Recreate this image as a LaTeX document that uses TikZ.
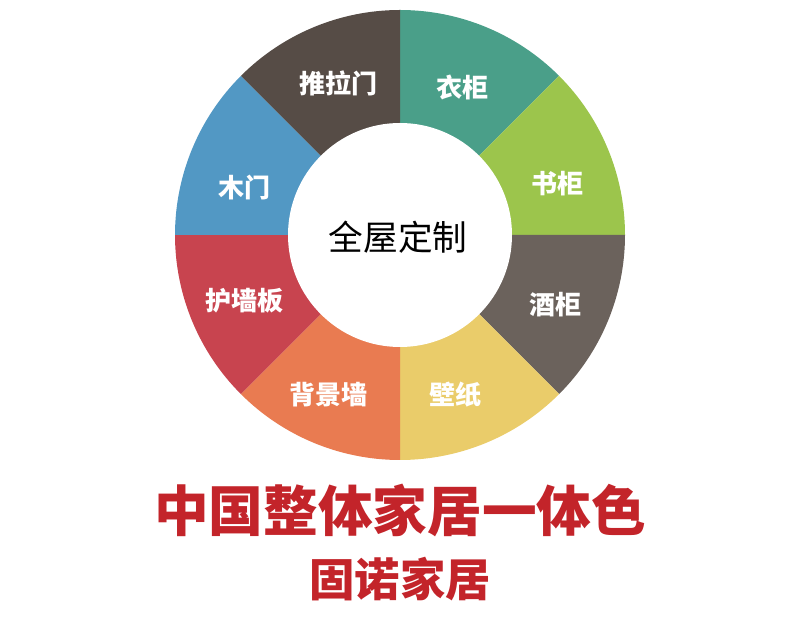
\documentclass[tikz,border=0pt]{standalone}
\usepackage{fontspec}
\newfontfamily\cjk{Noto Sans CJK SC}
\usetikzlibrary{positioning,calc}

\definecolor{cTuila}{HTML}{564C46}
\definecolor{cYigui}{HTML}{4A9F89}
\definecolor{cShugui}{HTML}{9CC54C}
\definecolor{cJiugui}{HTML}{6B625C}
\definecolor{cBizhi}{HTML}{EACC6A}
\definecolor{cBeijing}{HTML}{E97B51}
\definecolor{cHuqiang}{HTML}{C8444F}
\definecolor{cMumen}{HTML}{5298C4}
\definecolor{cTitle}{HTML}{C3242A}

\begin{document}
\begin{tikzpicture}[x=0.75pt,y=0.75pt,
  seglabel/.style={text=white,font=\cjk\bfseries\fontsize{19.5}{21}\selectfont},
  titletext/.style={text=cTitle,font=\cjk\bfseries\fontsize{41}{45}\selectfont}]
  \useasboundingbox (0,0) rectangle (800,617);
  \coordinate (o) at (400,382);
  % ring segments
  \foreach \a/\c/\t/\n/\la/\lr in {90/cYigui/衣柜/yigui/67/160,45/cShugui/书柜/shugui/18/166,
      0/cJiugui/酒柜/jiugui/-24/170,-45/cBizhi/壁纸/bizhi/-71/169,
      -90/cBeijing/背景墙/beijing/-114/175,-135/cHuqiang/护墙板/huqiang/-157/169,
      180/cMumen/木门/mumen/163/163,135/cTuila/推拉门/tuila/112/163} {
    \fill[\c] (o) -- ++(\a:225) arc[start angle=\a,end angle=\a-45,radius=225] -- cycle;
    \node[seglabel] (\n) at ($(o)+(\la:\lr)$) {\t};
  }
  \fill[white] (o) circle[radius=112];
  \node[font=\cjk\fontsize{26}{28}\selectfont] (center) at ($(o)+(-2,-2)$) {全屋定制};
  \node[titletext] (title) at (400,107) {中国整体家居一体色};
  \node[titletext,font=\cjk\bfseries\fontsize{34}{37}\selectfont,below=8.5pt of title] (brand) {固诺家居};
\end{tikzpicture}
\end{document}
